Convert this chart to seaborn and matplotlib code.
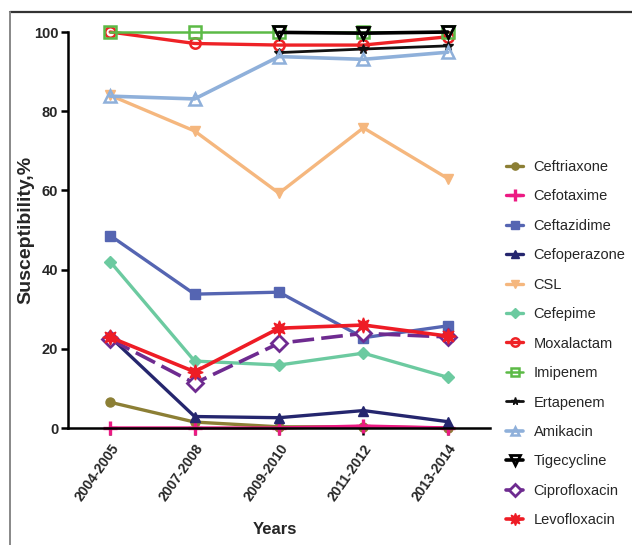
import numpy as np
import pandas as pd
import matplotlib
matplotlib.use("Agg")
import matplotlib.pyplot as plt
from matplotlib.lines import Line2D
import seaborn as sns

years = ["2004-2005", "2007-2008", "2009-2010", "2011-2012", "2013-2014"]

ceftriaxone = [6.5, 1.5, 0.3, 0.3, 0.0]
cefotaxime = [0.0, 0.0, 0.0, 0.5, 0.0]
ceftazidime = [48.6, 33.8, 34.3, 22.8, 25.8]
cefoperazone = [23.0, 2.9, 2.6, 4.4, 1.6]
csl = [84.0, 75.0, 59.3, 75.8, 63.0]
cefepime = [42.0, 16.9, 15.9, 18.9, 12.8]
moxalactam = [100.0, 97.1, 96.7, 96.7, 98.8]
imipenem = [100.0, 100.0, 100.0, 100.0, 100.0]
ertapenem = [np.nan, np.nan, 94.8, 95.7, 96.5]
amikacin = [83.8, 83.1, 93.8, 93.1, 94.9]
tigecycline = [np.nan, np.nan, 99.9, 99.7, 100.0]
ciprofloxacin = [22.4, 11.3, 21.4, 23.9, 23.0]
levofloxacin = [22.9, 14.2, 25.2, 26.0, 23.2]

drugs = ["Ceftriaxone", "Cefotaxime", "Ceftazidime", "Cefoperazone", "CSL",
         "Cefepime", "Moxalactam", "Imipenem", "Ertapenem", "Amikacin",
         "Tigecycline", "Ciprofloxacin", "Levofloxacin"]
values = [ceftriaxone, cefotaxime, ceftazidime, cefoperazone, csl, cefepime,
          moxalactam, imipenem, ertapenem, amikacin, tigecycline,
          ciprofloxacin, levofloxacin]

# colour, marker, face colour, line width, marker size, marker edge width, dashes
styles = {
    "Ceftriaxone":   ("#8c7f35", "o", None, 2.4, 6.5, 1.0, None),
    "Cefotaxime":    ("#ec1a83", "+", None, 2.4, 10, 2.4, None),
    "Ceftazidime":   ("#5565b2", "s", None, 2.4, 6.5, 1.0, None),
    "Cefoperazone":  ("#25266e", "^", None, 2.4, 7, 1.0, None),
    "CSL":           ("#f5b77e", "v", None, 2.4, 7, 1.0, None),
    "Cefepime":      ("#6ccaa0", "D", None, 2.4, 6, 1.0, None),
    "Moxalactam":    ("#ee2226", "o", "none", 2.4, 7.5, 1.8, None),
    "Imipenem":      ("#5cba46", "s", "none", 1.8, 8, 1.8, None),
    "Ertapenem":     ("#111111", "*", None, 2.0, 7, 1.0, None),
    "Amikacin":      ("#8fb0da", "^", "none", 2.6, 8, 1.8, None),
    "Tigecycline":   ("#000000", "v", "none", 2.6, 8.5, 2.0, None),
    "Ciprofloxacin": ("#6e2b90", "D", "white", 2.6, 8, 2.0, (6, 2)),
    "Levofloxacin":  ("#ee1c25", (8, 1, 0), None, 2.6, 11, 1.0, None),
}

rows = []
for name, vals in zip(drugs, values):
    for i, (yr, v) in enumerate(zip(years, vals)):
        if not np.isnan(v):
            rows.append({"drug": name, "pos": i, "year": yr, "value": v})
df = pd.DataFrame(rows)

sns.set_theme(style="white")
plt.rcParams["font.family"] = ["Liberation Sans", "DejaVu Sans"]

fig = plt.figure(figsize=(6.32, 5.45), dpi=100)
ax = fig.add_axes([68 / 632, 1 - 428 / 545, (490 - 68) / 632, (428 - 32) / 545])

handles = []
for name in drugs:
    color, marker, face, lw, ms, mew, dashes = styles[name]
    sub = df[df["drug"] == name]
    kw = dict(markerfacecolor=face if face is not None else color,
              markeredgecolor=color, markeredgewidth=mew)
    line_kw = dict(kw)
    if dashes is not None:
        line_kw["dashes"] = dashes
    sns.lineplot(data=sub, x="pos", y="value", ax=ax, color=color, marker=marker,
                 markersize=ms, linewidth=lw, estimator=None, sort=False,
                 legend=False, clip_on=False, **line_kw)
    handles.append(Line2D([0], [0], color=color, marker=marker, markersize=ms * 0.8,
                          linewidth=lw, **kw))

ax.set_xlim(-0.5, 4.5)
ax.set_ylim(0, 100)
ax.set_yticks([0, 20, 40, 60, 80, 100])
ax.set_xticks(range(len(years)))
ax.set_xticklabels(years, rotation=55, ha="right", rotation_mode="anchor",
                   fontsize=10, fontweight="bold")
for lab in ax.get_yticklabels():
    lab.set_fontsize(10.5)
    lab.set_fontweight("bold")
ax.tick_params(axis="both", direction="out", length=5, width=1.8, color="black",
               pad=2, left=True, bottom=True)
ax.tick_params(axis="x", pad=5)
for side in ["top", "right"]:
    ax.spines[side].set_visible(False)
for side in ["left", "bottom"]:
    ax.spines[side].set_color("black")
    ax.spines[side].set_linewidth(1.8)

ax.set_xlabel("Years", fontsize=12, fontweight="bold")
ax.xaxis.set_label_coords((275 - 68) / 422, -(522 - 428) / 396)
ax.set_ylabel("Susceptibility,%", fontsize=14, fontweight="bold")
ax.yaxis.set_label_coords(-(68 - 34) / 422, (428 - 230) / 396)

fig.legend(handles, drugs, loc="upper left", bbox_to_anchor=(500 / 632, 1 - 154 / 545),
           frameon=False, fontsize=10.5, labelspacing=1.06, handlelength=1.2,
           handletextpad=0.7, borderaxespad=0)

# outer frame
fig.add_artist(Line2D([10 / 632, 1.0], [1 - 12 / 545, 1 - 12 / 545],
                      transform=fig.transFigure, color="#333333", linewidth=1.6))
fig.add_artist(Line2D([10 / 632, 10 / 632], [0, 1 - 12 / 545],
                      transform=fig.transFigure, color="#888888", linewidth=1.4))

fig.savefig("out.png", dpi=100)
